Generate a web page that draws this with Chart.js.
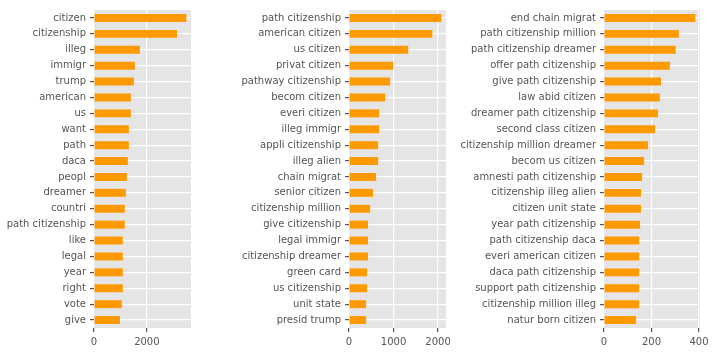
<!DOCTYPE html>
<html>
<head>
<meta charset="utf-8">
<script src="https://cdn.jsdelivr.net/npm/chart.js@4"></script>
<style>
  html, body { margin: 0; padding: 0; background: #fff; }
  body { width: 714px; height: 352px; position: relative; overflow: hidden; }
  .panel { position: absolute; top: 0; height: 352px; }
</style>
</head>
<body>
<div class="panel" style="left:0px;width:200px"><canvas id="c1" width="200" height="352"></canvas></div>
<div class="panel" style="left:200px;width:250px"><canvas id="c2" width="250" height="352"></canvas></div>
<div class="panel" style="left:450px;width:264px"><canvas id="c3" width="264" height="352"></canvas></div>
<script>
// === single words ===
const wordLabels = ['citizen', 'citizenship', 'illeg', 'immigr', 'trump', 'american', 'us', 'want', 'path', 'daca',
  'peopl', 'dreamer', 'countri', 'path citizenship', 'like', 'legal', 'year', 'right', 'vote', 'give'];
const wordCounts = [3495, 3140, 1736, 1546, 1508, 1394, 1394, 1318, 1318, 1280,
  1242, 1204, 1166, 1166, 1090, 1090, 1090, 1090, 1052, 980];
const wordTicks = [0, 2000];

// === bigrams ===
const bigramLabels = ['path citizenship', 'american citizen', 'us citizen', 'privat citizen', 'pathway citizenship',
  'becom citizen', 'everi citizen', 'illeg immigr', 'appli citizenship', 'illeg alien', 'chain migrat',
  'senior citizen', 'citizenship million', 'give citizenship', 'legal immigr', 'citizenship dreamer',
  'green card', 'us citizenship', 'unit state', 'presid trump'];
const bigramCounts = [2074, 1871, 1330, 992, 924, 812, 676, 676, 654, 654, 609,
  541, 474, 428, 428, 428, 406, 406, 383, 383];
const bigramTicks = [0, 1000, 2000];

// === trigrams ===
const trigramLabels = ['end chain migrat', 'path citizenship million', 'path citizenship dreamer', 'offer path citizenship',
  'give path citizenship', 'law abid citizen', 'dreamer path citizenship', 'second class citizen',
  'citizenship million dreamer', 'becom us citizen', 'amnesti path citizenship', 'citizenship illeg alien',
  'citizen unit state', 'year path citizenship', 'path citizenship daca', 'everi american citizen',
  'daca path citizenship', 'support path citizenship', 'citizenship million illeg', 'natur born citizen'];
const trigramCounts = [385, 315, 302, 277, 240, 235, 227, 215, 185, 169, 160, 156,
  156, 152, 148, 148, 148, 148, 148, 135];
const trigramTicks = [0, 200, 400];

// gray panel behind the bars (ggplot look)
const panelBg = {
  id: 'panelBg',
  beforeDraw(chart) {
    const { ctx, chartArea: a } = chart;
    ctx.save();
    ctx.fillStyle = '#E5E5E5';
    ctx.fillRect(a.left, a.top, a.right - a.left, a.bottom - a.top);
    ctx.restore();
  }
};

const tickFont = { family: 'DejaVu Sans', size: 10 };

function drawPanel(id, labels, values, tickVals, yWidth, padRight) {
  const ctx = document.getElementById(id);
  new Chart(ctx, {
    type: 'bar',
    data: {
      labels,
      datasets: [{
        data: values,
        backgroundColor: '#FF9900',
        barPercentage: 0.5,
        categoryPercentage: 1.0
      }]
    },
    plugins: [panelBg],
    options: {
      indexAxis: 'y',
      responsive: false,
      animation: false,
      layout: { padding: { top: 10, right: padRight, bottom: 0, left: 0 } },
      plugins: { legend: { display: false }, tooltip: { enabled: false } },
      scales: {
        x: {
          min: 0,
          max: Math.max(...values) * 1.05,
          afterBuildTicks(s) { s.ticks = tickVals.map(v => ({ value: v })); },
          afterFit(s) {
            s.height = 24;
            // let the last label hang past the panel like matplotlib does
            s.paddingLeft = 0;
            s.paddingRight = 0;
          },
          grid: { color: '#FFFFFF', lineWidth: 1.2, tickColor: '#555555', tickLength: 4 },
          border: { display: false },
          ticks: { color: '#555555', font: tickFont, padding: 4, maxRotation: 0, callback: v => String(v) }
        },
        y: {
          afterFit(s) { s.width = yWidth; },
          grid: { offset: false, color: '#FFFFFF', lineWidth: 1.2, tickColor: '#555555', tickLength: 4 },
          border: { display: false },
          ticks: { color: '#555555', font: tickFont, padding: 4, autoSkip: false }
        }
      }
    }
  });
}

drawPanel('c1', wordLabels, wordCounts, wordTicks, 94, 9);
drawPanel('c2', bigramLabels, bigramCounts, bigramTicks, 149, 4);
drawPanel('c3', trigramLabels, trigramCounts, trigramTicks, 154, 14);
</script>
</body>
</html>
